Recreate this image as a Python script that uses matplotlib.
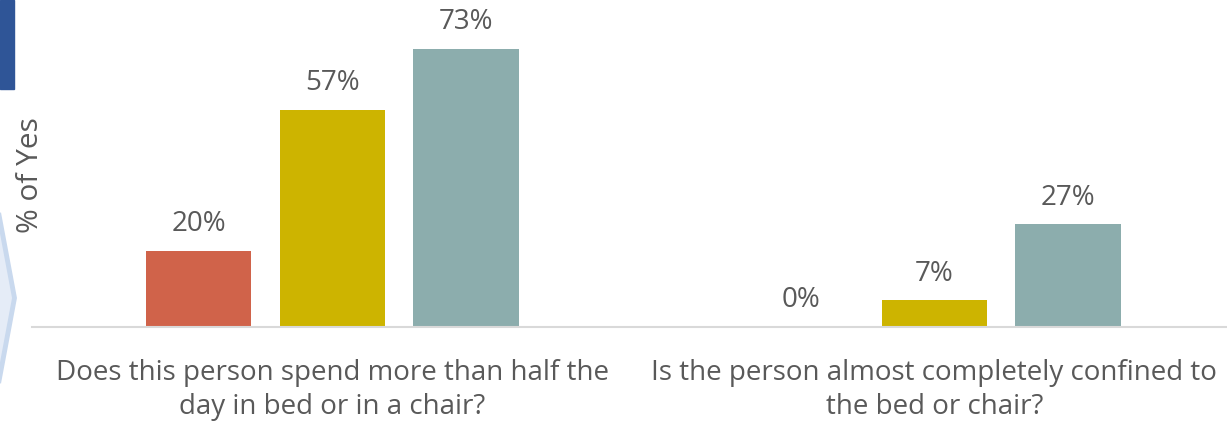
import matplotlib
matplotlib.use('Agg')
import matplotlib.pyplot as plt
from matplotlib.patches import Rectangle, Polygon
import numpy as np

plt.rcParams['font.family'] = ['Open Sans', 'DejaVu Sans']

# Datos
preguntas = ['Does this person spend more than half the\nday in bed or in a chair?',
             'Is the person almost completely confined to\nthe bed or chair?']
serie_1 = [20, 0]
serie_2 = [57, 7]
serie_3 = [73, 27]
colores = ['#D0634A', '#CDB400', '#8CADAD']
gris = '#595959'

fig = plt.figure(figsize=(12.27, 4.25), dpi=100)
ax = fig.add_axes([32/1227, 1 - 327/425, 1195/1227, 327/425])

# Decoraciones de la diapositiva al borde izquierdo
fig.patches.append(Rectangle((0, 1 - 89/425), 14/1227, 89/425,
                             transform=fig.transFigure, color='#2F5597', zorder=0))
fig.patches.append(Polygon([(-0.01, 1 - 215/425), (-1/1227, 1 - 215/425),
                            (14.5/1227, 1 - 298/425), (-1/1227, 1 - 381/425),
                            (-0.01, 1 - 381/425)],
                           transform=fig.transFigure, facecolor='#E5ECF7',
                           edgecolor='#C9D9EE', linewidth=3.5, zorder=0))

x = np.arange(len(preguntas))
ancho = 0.175
sep = 0.222
for i, (vals, c) in enumerate(zip([serie_1, serie_2, serie_3], colores)):
    pos = x + (i - 1) * sep
    ax.bar(pos, vals, width=ancho, color=c)
    for p, v in zip(pos, vals):
        ax.text(p, v + 3.3, f'{v}%', ha='center', va='bottom',
                fontsize=20, color=gris, clip_on=False)

ax.set_xlim(-0.499, 1.486)
ax.set_ylim(0, 327/3.81)
for s in ['top', 'right', 'left']:
    ax.spines[s].set_visible(False)
ax.spines['bottom'].set_color('#D9D9D9')
ax.spines['bottom'].set_linewidth(1.5)
ax.set_yticks([])
ax.set_xticks(x)
ax.set_xticklabels(preguntas, fontsize=20, color=gris, linespacing=1.3)
ax.tick_params(axis='x', length=0, pad=23)

fig.text(30/1227, 1 - 175/425, '% of Yes', rotation=90, ha='center', va='center',
         fontsize=21.5, color=gris)

fig.savefig('out.png', dpi=100)
